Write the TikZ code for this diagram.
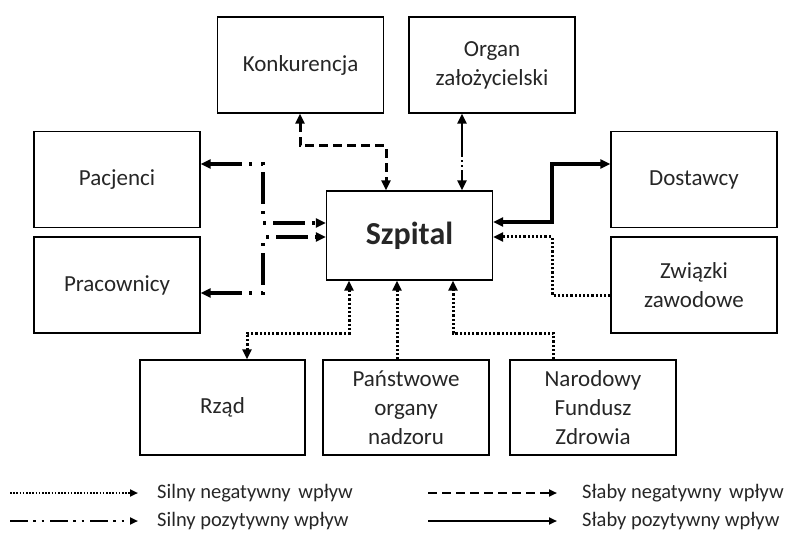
\documentclass[tikz,border=0pt]{standalone}
\usepackage{fontspec}
\setmainfont{Carlito}
\usetikzlibrary{arrows.meta, positioning}

\begin{document}
\begin{tikzpicture}[x=1pt, y=-1pt,
    >={Triangle[length=10pt,width=9pt]},
    blok/.style={draw, line width=1.3pt, minimum width=166pt, minimum height=96pt,
        align=center, text=black!85, font=\fontsize{23}{29}\selectfont},
    silneg/.style={line width=3pt, dash pattern=on 2.2pt off 2pt},
    silpoz/.style={line width=3.8pt, dash pattern=on 32pt off 7pt on 3pt off 9pt on 3pt off 7pt},
    slabneg/.style={line width=3pt, dash pattern=on 9pt off 5pt},
    slabpoz/.style={line width=3.2pt},
    legenda/.style={anchor=west, inner sep=0pt, text=black!85, font=\fontsize{20.5}{24}\selectfont}]
    \useasboundingbox (0,0) rectangle (790,540);

    \node (szp) [blok, minimum height=89pt, font=\bfseries\fontsize{32}{36}\selectfont] at (409.5,235.5) {Szpital};
    \node (konk) [blok] at (300.5,65) {Konkurencja};
    \node (organ) [blok] at (492,65) {Organ\\założycielski};
    \node (pacj) [blok] at (117,179.5) {Pacjenci};
    \node (prac) [blok] at (117,285) {Pracownicy};
    \node (dost) [blok] at (694,179.5) {Dostawcy};
    \node (zwi) [blok] at (694,285) {Związki\\zawodowe};
    \node (rzad) [blok, minimum width=165pt, minimum height=95pt] at (222.5,407.5) {Rząd};
    \node (pon) [blok, minimum height=95pt] at (406,407.5) {Państwowe\\organy\\nadzoru};
    \node (nfz) [blok, minimum height=95pt] at (593,407.5) {Narodowy\\Fundusz\\Zdrowia};

    % punkty zalaman
    \coordinate (k1) at (300,146);
    \coordinate (k2) at (386,146);
    \coordinate (o1) at (462,150);
    \coordinate (p1) at (263,164);
    \coordinate (p2) at (263,223);
    \coordinate (p3) at (263,293);
    \coordinate (p4) at (263,237);
    \coordinate (d1) at (552,222);
    \coordinate (d2) at (552,164);
    \coordinate (z1) at (552,295);
    \coordinate (z2) at (552,237);
    \coordinate (r1) at (349,333);
    \coordinate (r2) at (247,333);
    \coordinate (n1) at (397,320);
    \coordinate (f1) at (553,333);
    \coordinate (f2) at (453,333);

    \draw [slabneg, <->] (konk.south -| k1) -- (k1) -- (k2) -- (szp.north -| k2);
    \draw [silpoz, line width=2.6pt, dash pattern=on 34pt off 3pt on 2pt off 3pt on 2pt off 3pt, <->] (organ.south -| o1) -- (szp.north -| o1);
    \draw [silpoz, <->] (pacj.east |- p1) -- (p1) -- (p2) -- (szp.west |- p2);
    \draw [silpoz, <->] (prac.east |- p3) -- (p3) -- (p4) -- (szp.west |- p4);
    \draw [slabpoz, <->] (szp.east |- d1) -- (d1) -- (d2) -- (dost.west |- d2);
    \draw [silneg, ->] (zwi.west |- z1) -- (z1) -- (z2) -- (szp.east |- z2);
    \draw [silneg, <->] (szp.south -| r1) -- (r1) -- (r2) -- (rzad.north -| r2);
    \draw [silneg, ->] (pon.north -| n1) -- (szp.south -| n1);
    \draw [silneg, ->] (nfz.north -| f1) -- (f1) -- (f2) -- (szp.south -| f2);

    % legenda
    \node (leg1) [legenda] at (157,493) {Silny negatywny\hspace{3pt} wpływ};
    \node (leg2) [legenda] at (157,521) {Silny pozytywny wpływ};
    \node (leg3) [legenda] at (582,493) {Słaby negatywny\hspace{3pt} wpływ};
    \node (leg4) [legenda] at (582,521) {Słaby pozytywny wpływ};
    \coordinate (l1) at (10,493);
    \coordinate (l2) at (10,521);
    \coordinate (l3) at (428,493);
    \coordinate (l4) at (428,521);
    \draw [silneg, line width=2.2pt, dash pattern=on 1.6pt off 1.6pt, -{Triangle[length=8pt,width=7pt]}] (l1) -- ([xshift=-19pt]leg1.west);
    \draw [silpoz, line width=2.5pt, dash pattern=on 18pt off 5pt on 2.5pt off 6pt on 2.5pt off 6pt, -{Triangle[length=8pt,width=7pt]}] (l2) -- ([xshift=-19pt]leg2.west);
    \draw [slabneg, line width=2.5pt, -{Triangle[length=8pt,width=7pt]}] (l3) -- ([xshift=-25pt]leg3.west);
    \draw [slabpoz, line width=2pt, -{Triangle[length=8pt,width=7pt]}] (l4) -- ([xshift=-25pt]leg4.west);
\end{tikzpicture}
\end{document}
